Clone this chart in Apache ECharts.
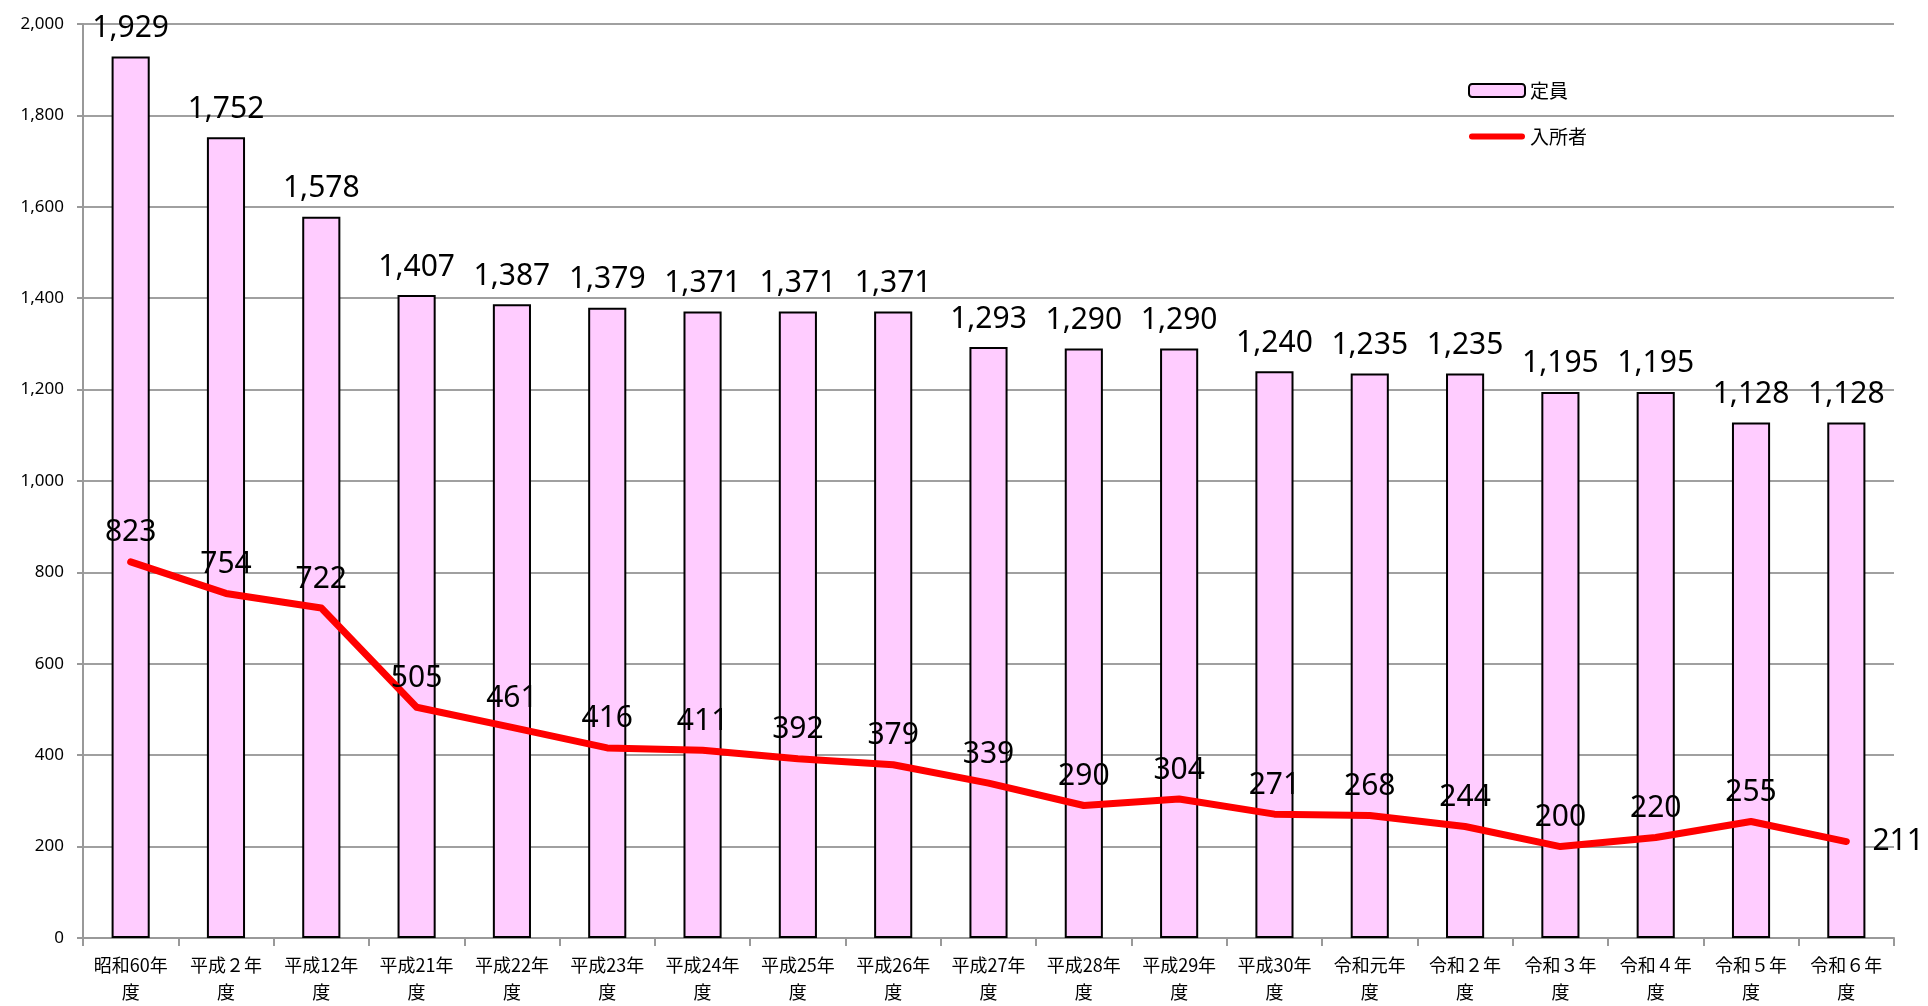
<!DOCTYPE html>
<html>
<head>
<meta charset="utf-8">
<script src="https://cdn.jsdelivr.net/npm/echarts@6/dist/echarts.min.js"></script>
<style>
  html, body { margin: 0; padding: 0; background: #fff; }
  #chart { width: 1928px; height: 1006px; }
</style>
</head>
<body>
<div id="chart"></div>
<script>
// Fiscal years (年度)
const categories = [
  '昭和60年度', '平成２年度', '平成12年度', '平成21年度', '平成22年度',
  '平成23年度', '平成24年度', '平成25年度', '平成26年度', '平成27年度',
  '平成28年度', '平成29年度', '平成30年度', '令和元年度', '令和２年度',
  '令和３年度', '令和４年度', '令和５年度', '令和６年度'
];
// Capacity (定員)
const capacity = [1929, 1752, 1578, 1407, 1387, 1379, 1371, 1371, 1371, 1293,
                  1290, 1290, 1240, 1235, 1235, 1195, 1195, 1128, 1128];
// Residents (入所者)
const residents = [823, 754, 722, 505, 461, 416, 411, 392, 379, 339,
                   290, 304, 271, 268, 244, 200, 220, 255, 211];
// Y axis ticks
const yMin = 0, yMax = 2000, yStep = 200;

const fmt = v => Number(v).toLocaleString('en-US');
const jpFont = '"Noto Sans CJK JP", "Noto Sans", sans-serif';
const numFont = '"Noto Sans", "Liberation Sans", sans-serif';

// Thick bar used as the legend icon of the line series (padded to the full icon box)
const lineIcon = 'path://M0,0L0.01,0L0.01,0.01Z M3,3.5L53,3.5A3,3 0 0 1 53,9.5L3,9.5A3,3 0 0 1 3,3.5Z M56,13L55.99,13L55.99,12.99Z';

const chart = echarts.init(document.getElementById('chart'));

const residentData = residents.map((v, i) => {
  if (i === residents.length - 1) {
    return { value: v, label: { position: 'right', distance: 26 } };
  }
  return v;
});

chart.setOption({
  animation: false,
  backgroundColor: '#ffffff',
  grid: { left: 83, right: 34, top: 24, bottom: 64, containLabel: false },
  legend: {
    left: 1463,
    top: 76,
    orient: 'vertical',
    itemWidth: 56,
    itemHeight: 13,
    itemGap: 27,
    textStyle: { fontFamily: jpFont, fontSize: 19, color: '#000' },
    data: [
      { name: '定員' },
      { name: '入所者', icon: lineIcon, itemStyle: { color: '#ff0000', borderWidth: 0 } }
    ]
  },
  xAxis: {
    type: 'category',
    data: categories,
    boundaryGap: true,
    axisLine: { lineStyle: { color: '#999999', width: 2 } },
    axisTick: { show: true, length: 8, lineStyle: { color: '#999999', width: 2 } },
    axisLabel: {
      interval: 0,
      margin: 14,
      fontFamily: jpFont,
      fontSize: 18,
      lineHeight: 27,
      color: '#000',
      formatter: s => s.slice(0, -1) + '\n' + s.slice(-1)
    }
  },
  yAxis: {
    type: 'value',
    min: yMin,
    max: yMax,
    interval: yStep,
    axisLine: { show: true, lineStyle: { color: '#999999', width: 2 } },
    axisTick: { show: true, length: 6, lineStyle: { color: '#999999', width: 2 } },
    axisLabel: {
      margin: 19,
      fontFamily: numFont,
      fontSize: 17,
      color: '#000',
      formatter: fmt
    },
    splitLine: { show: true, lineStyle: { color: '#a0a0a0', width: 2 } }
  },
  series: [
    {
      name: '定員',
      type: 'bar',
      data: capacity,
      barWidth: '40%',
      itemStyle: { color: '#ffccff', borderColor: '#000000', borderWidth: 2 },
      label: {
        show: true,
        position: 'top',
        distance: 13,
        fontFamily: numFont,
        fontSize: 30,
        color: '#000',
        formatter: p => fmt(p.value)
      },
      z: 2
    },
    {
      name: '入所者',
      type: 'line',
      data: residentData,
      symbol: 'circle',
      symbolSize: 0.1,
      showSymbol: true,
      lineStyle: { color: '#ff0000', width: 7, cap: 'round', join: 'round' },
      itemStyle: { color: '#ff0000' },
      label: {
        show: true,
        position: 'top',
        distance: 14,
        fontFamily: numFont,
        fontSize: 30,
        color: '#000',
        formatter: p => String(p.value)
      },
      z: 3
    }
  ]
});
</script>
</body>
</html>
